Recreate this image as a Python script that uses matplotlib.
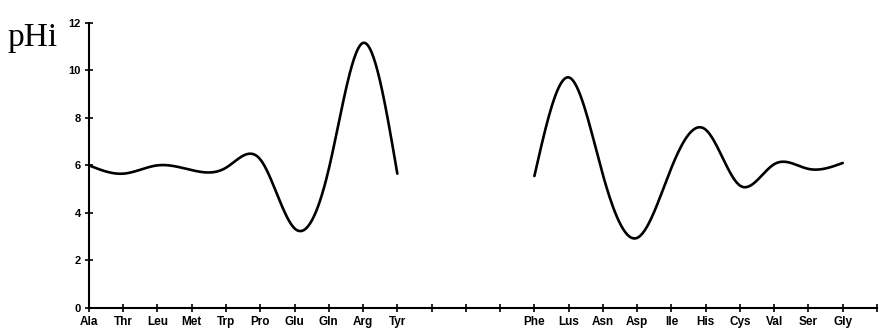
import numpy as np
import matplotlib.pyplot as plt

# Data
left_names = ["Ala", "Thr", "Leu", "Met", "Trp", "Pro", "Glu", "Gln", "Arg", "Tyr"]
left_vals = [6.0, 5.65, 6.0, 5.8, 5.9, 6.25, 3.35, 5.85, 11.15, 5.65]
right_names = ["Phe", "Lus", "Asn", "Asp", "Ile", "His", "Cys", "Val", "Ser", "Gly"]
right_vals = [5.55, 9.7, 5.6, 2.95, 5.9, 7.5, 5.15, 6.05, 5.85, 6.1]
left_pos = list(range(0, 10))
right_pos = list(range(13, 23))
n_ticks = 24


def natural_spline(x, y, n=300):
    # plain natural cubic spline, no scipy
    x = np.asarray(x, float)
    y = np.asarray(y, float)
    k = len(x)
    h = np.diff(x)
    A = np.zeros((k, k))
    b = np.zeros(k)
    A[0, 0] = A[-1, -1] = 1
    for i in range(1, k - 1):
        A[i, i - 1] = h[i - 1]
        A[i, i] = 2 * (h[i - 1] + h[i])
        A[i, i + 1] = h[i]
        b[i] = 3 * ((y[i + 1] - y[i]) / h[i] - (y[i] - y[i - 1]) / h[i - 1])
    c = np.linalg.solve(A, b)
    xs = np.linspace(x[0], x[-1], n)
    idx = np.clip(np.searchsorted(x, xs) - 1, 0, k - 2)
    dx = xs - x[idx]
    bb = (y[idx + 1] - y[idx]) / h[idx] - h[idx] * (2 * c[idx] + c[idx + 1]) / 3
    dd = (c[idx + 1] - c[idx]) / (3 * h[idx])
    ys = y[idx] + bb * dx + c[idx] * dx ** 2 + dd * dx ** 3
    return xs, ys


fig = plt.figure(figsize=(8.8, 3.32), dpi=100)
ax = fig.add_axes([0.1011, 0.0723, 0.8955, 0.8593])

for pos, vals in [(left_pos, left_vals), (right_pos, right_vals)]:
    xs, ys = natural_spline(pos, vals)
    ax.plot(xs, ys, color="black", lw=1.9, solid_capstyle="round")

ax.set_xlim(0, n_ticks - 1)
ax.set_ylim(0, 12)
ax.set_xticks(range(n_ticks))
labels = [""] * n_ticks
for p, name in zip(left_pos + right_pos, left_names + right_names):
    labels[p] = name
ax.set_xticklabels(labels, fontsize=8.5, fontweight="bold", family="Liberation Sans")
ax.set_yticks(range(0, 13, 2))
ax.set_yticklabels([str(v) for v in range(0, 13, 2)], fontsize=8,
                   fontweight="bold", family="Liberation Sans")
ax.tick_params(axis="both", direction="inout", length=6, width=1.2, color="black")
ax.tick_params(axis="x", pad=3)
ax.tick_params(axis="y", pad=3)

for s in ["top", "right"]:
    ax.spines[s].set_visible(False)
for s in ["left", "bottom"]:
    ax.spines[s].set_linewidth(1.5)

fig.text(0.009, 0.86, "pHi", fontsize=24, family="Liberation Serif")

fig.savefig("out.png", dpi=100)
